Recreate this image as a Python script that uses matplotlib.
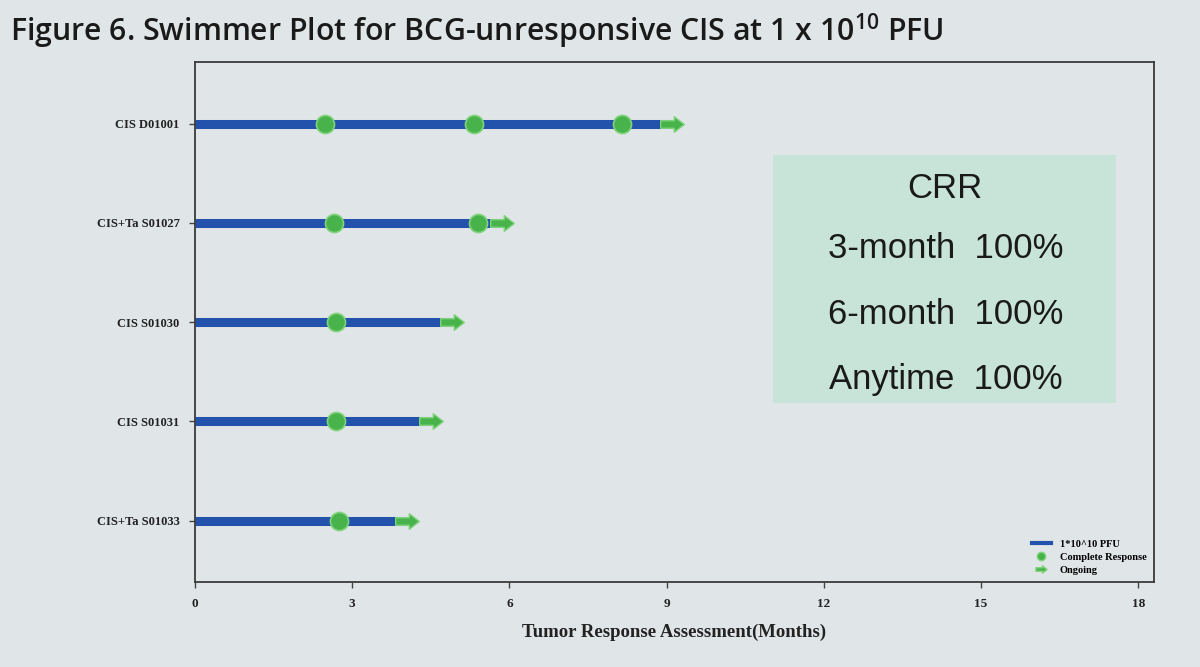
import matplotlib
matplotlib.use("Agg")
import matplotlib.pyplot as plt
from matplotlib.path import Path
from matplotlib.lines import Line2D
from matplotlib.patches import FancyBboxPatch

# ---- data ----
patients = ["CIS D01001", "CIS+Ta S01027", "CIS S01030", "CIS S01031", "CIS+Ta S01033"]
durations = [9.1, 5.85, 4.9, 4.5, 4.05]
complete_response = [[2.49, 5.33, 8.14], [2.66, 5.40], [2.70], [2.70], [2.74]]
xticks = [0, 3, 6, 9, 12, 15, 18]
crr_title = "CRR"
crr_lines = ["3-month  100%", "6-month  100%", "Anytime  100%"]
legend_labels = ["1*10^10 PFU", "Complete Response", "Ongoing"]

bg = "#e0e5e7"
blue = "#2352ad"
green = "#47b34a"
green_edge = "#7fd37a"

plt.rcParams["mathtext.fontset"] = "custom"
plt.rcParams["mathtext.rm"] = "Open Sans:semibold"
plt.rcParams["mathtext.it"] = "Open Sans:semibold"
plt.rcParams["mathtext.bf"] = "Open Sans:bold"

fig = plt.figure(figsize=(12, 6.67), dpi=100, facecolor=bg)
ax = fig.add_axes([0.1625, 0.127, 0.7992, 0.780], facecolor=bg)

# custom arrow marker (short tail + head)
verts = [(-1.0, -0.32), (0.15, -0.32), (0.15, -0.66), (1.0, 0.0), (0.15, 0.66),
         (0.15, 0.32), (-1.0, 0.32), (-1.0, -0.32)]
codes = [Path.MOVETO] + [Path.LINETO] * 6 + [Path.CLOSEPOLY]
arrow = Path(verts, codes)

ypos = list(range(len(patients)))
for y, d, crs in zip(ypos, durations, complete_response):
    ax.plot([0, d], [y, y], color=blue, lw=6.5, solid_capstyle="butt", zorder=2)
    ax.plot(crs, [y] * len(crs), linestyle="none", marker="o", ms=13,
            mfc=green, mec=green_edge, mew=1.2, zorder=3)
    ax.plot([d], [y], linestyle="none", marker=arrow, ms=17,
            mfc=green, mec=green_edge, mew=1.0, zorder=3)

ax.set_xlim(0, 18.3)
ax.set_ylim(len(patients) - 1 + 0.62, -0.62)
ax.set_xticks(xticks)
ax.set_xticklabels([str(t) for t in xticks], family="Liberation Serif",
                   fontweight="bold", fontsize=9.5, color="#222222")
ax.set_yticks(ypos)
ax.set_yticklabels(patients, family="Liberation Serif", fontweight="bold",
                   fontsize=9, color="#222222")
ax.tick_params(axis="both", length=4, width=1, color="#444444", pad=7)
for s in ax.spines.values():
    s.set_color("#3a3a3a")
    s.set_linewidth(1.3)
ax.set_xlabel("Tumor Response Assessment(Months)", family="Liberation Serif",
              fontweight="bold", fontsize=13.5, color="#222222", labelpad=10)

# legend
handles = [
    Line2D([], [], color=blue, lw=3),
    Line2D([], [], ls="none", marker="o", ms=6, mfc=green, mec=green_edge),
    Line2D([], [], ls="none", marker=arrow, ms=8, mfc=green, mec=green_edge),
]
leg = ax.legend(handles, legend_labels, loc="lower right", frameon=False,
                prop={"family": "Liberation Serif", "weight": "bold", "size": 7.5},
                handlelength=1.8, handletextpad=0.9, labelspacing=0.35,
                borderaxespad=0.3)

# CRR box
box = FancyBboxPatch((773 / 1200, 1 - 403 / 667), (1116 - 773) / 1200, (403 - 155) / 667,
                     boxstyle="square,pad=0", transform=fig.transFigure,
                     facecolor="#c8e4d9", edgecolor="none", zorder=5)
fig.patches.append(box)
fig.text(945 / 1200, 1 - 189 / 667, crr_title, ha="center", va="center",
         family="Liberation Sans", fontsize=25, color="#1a1a1a", zorder=6)
for i, line in enumerate(crr_lines):
    fig.text(946 / 1200, 1 - (249 + 65 * i) / 667, line, ha="center", va="center",
             family="Liberation Sans", fontsize=25, color="#1a1a1a", zorder=6)

# title
fig.text(10 / 1200, 1 - 31 / 667,
         "Figure 6. Swimmer Plot for BCG-unresponsive CIS at 1 x 10$^{10}$ PFU",
         ha="left", va="center", family="Open Sans", fontweight="semibold",
         fontsize=21.8, color="#1a1a1a")

fig.savefig("out.png", dpi=100, facecolor=bg)
